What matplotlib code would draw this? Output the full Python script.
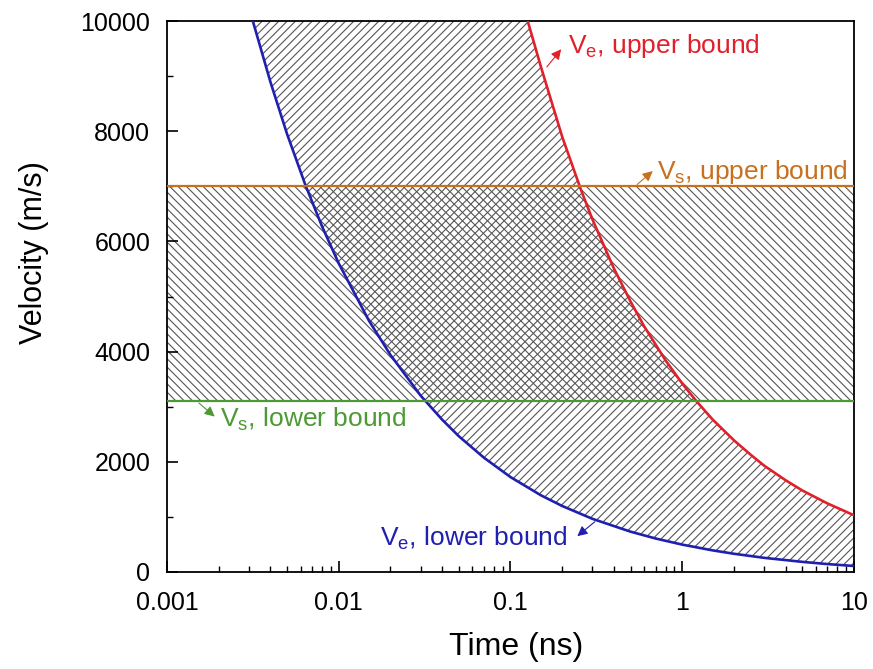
import matplotlib
matplotlib.use("Agg")
import matplotlib.pyplot as plt
from matplotlib.ticker import FixedLocator, NullFormatter

plt.rcParams['font.family'] = ['Liberation Sans', 'DejaVu Sans']
plt.rcParams['hatch.linewidth'] = 0.8
plt.rcParams['hatch.color'] = '#555555'

# values
t_lower = [0.00316, 0.004, 0.005, 0.0064, 0.008, 0.01, 0.015, 0.02, 0.03, 0.04,
           0.05, 0.07, 0.1, 0.15, 0.2, 0.3, 0.5, 0.7, 1.0, 1.5, 2.0, 3.0, 5.0, 7.0, 10.0]
v_lower = [10000, 8895, 7950, 7020, 6270, 5600, 4560, 3940, 3200, 2765,
           2465, 2075, 1723, 1394, 1198, 965, 732, 608, 497, 393, 331, 257, 184, 144, 109]

t_upper = [0.126, 0.15, 0.2, 0.257, 0.3, 0.4, 0.5, 0.6, 0.8, 1.0, 1.21, 1.5,
           2.0, 2.5, 3.0, 4.0, 5.0, 7.0, 10.0]
v_upper = [10000, 9180, 7900, 6940, 6400, 5510, 4910, 4460, 3840, 3420, 3100, 2770,
           2390, 2130, 1930, 1665, 1480, 1245, 1030]

vs_upper = 7000
vs_lower = 3100

BLUE = '#1f1fb0'
RED = '#e0202a'
ORANGE = '#c8701e'
GREEN = '#4c9a34'

fig = plt.figure(figsize=(8.73, 6.69), dpi=100)
ax = fig.add_axes([0.1913, 0.145, 0.7869, 0.8236])
ax.set_xscale('log')

# region between the two V_e curves
poly_t = t_lower + t_upper[::-1]
poly_v = v_lower + v_upper[::-1]
ax.fill(poly_t, poly_v, facecolor='none', edgecolor='#555555', lw=0, hatch='////', zorder=1)

# band between the two V_s bounds
ax.axhspan(vs_lower, vs_upper, facecolor='none', edgecolor='#555555', lw=0,
           hatch='\\\\\\\\', zorder=1)

ax.plot(t_lower, v_lower, color=BLUE, lw=1.9, zorder=3)
ax.plot(t_upper, v_upper, color=RED, lw=1.9, zorder=3)
ax.axhline(vs_upper, color=ORANGE, lw=1.6, zorder=3)
ax.axhline(vs_lower, color=GREEN, lw=1.6, zorder=3)

ax.set_xlim(0.001, 10)
ax.set_ylim(0, 10000)

ax.set_xticks([0.001, 0.01, 0.1, 1, 10])
ax.set_xticklabels(['0.001', '0.01', '0.1', '1', '10'])
minors = [m * 10.0 ** e for e in range(-3, 1) for m in range(2, 10)]
ax.xaxis.set_minor_locator(FixedLocator(minors))
ax.xaxis.set_minor_formatter(NullFormatter())
ax.set_yticks([0, 2000, 4000, 6000, 8000, 10000])
ax.yaxis.set_minor_locator(FixedLocator([1000, 3000, 5000, 7000, 9000]))

ax.tick_params(which='both', direction='in', top=False, right=False, labelsize=18)
ax.tick_params(which='major', length=8, width=1.2)
ax.tick_params(which='minor', length=4.5, width=1.0)
ax.tick_params(axis='x', which='major', pad=14)
ax.tick_params(axis='y', which='major', pad=12)
for s in ax.spines.values():
    s.set_linewidth(1.3)

ax.set_xlabel('Time (ns)', fontsize=23)
ax.set_ylabel('Velocity (m/s)', fontsize=22)
ax.xaxis.set_label_coords(0.508, -0.108)
ax.yaxis.set_label_coords(-0.172, 0.58)

arrow = dict(arrowstyle='-|>', lw=0.8, mutation_scale=15)

ax.text(0.216, 9545, r'V$_\mathregular{e}$, upper bound', color=RED, fontsize=19,
        ha='left', va='center', zorder=4)
ax.annotate('', xy=(0.202, 9527), xytext=(0.159, 9127),
            arrowprops=dict(arrow, color=RED), zorder=4)

ax.text(0.713, 7255, r'V$_\mathregular{s}$, upper bound', color=ORANGE, fontsize=19,
        ha='left', va='center', zorder=4)
ax.annotate('', xy=(0.693, 7309), xytext=(0.531, 7000),
            arrowprops=dict(arrow, color=ORANGE), zorder=4)

ax.text(0.00204, 2764, r'V$_\mathregular{s}$, lower bound', color=GREEN, fontsize=19,
        ha='left', va='center', zorder=4)
ax.annotate('', xy=(0.00195, 2788), xytext=(0.00149, 3100),
            arrowprops=dict(arrow, color=GREEN), zorder=4)

ax.text(0.216, 618, r'V$_\mathregular{e}$, lower bound', color=BLUE, fontsize=19,
        ha='right', va='center', zorder=4)
ax.annotate('', xy=(0.238, 618), xytext=(0.319, 945),
            arrowprops=dict(arrow, color=BLUE), zorder=4)

fig.savefig('out.png', dpi=100)
plt.close(fig)
